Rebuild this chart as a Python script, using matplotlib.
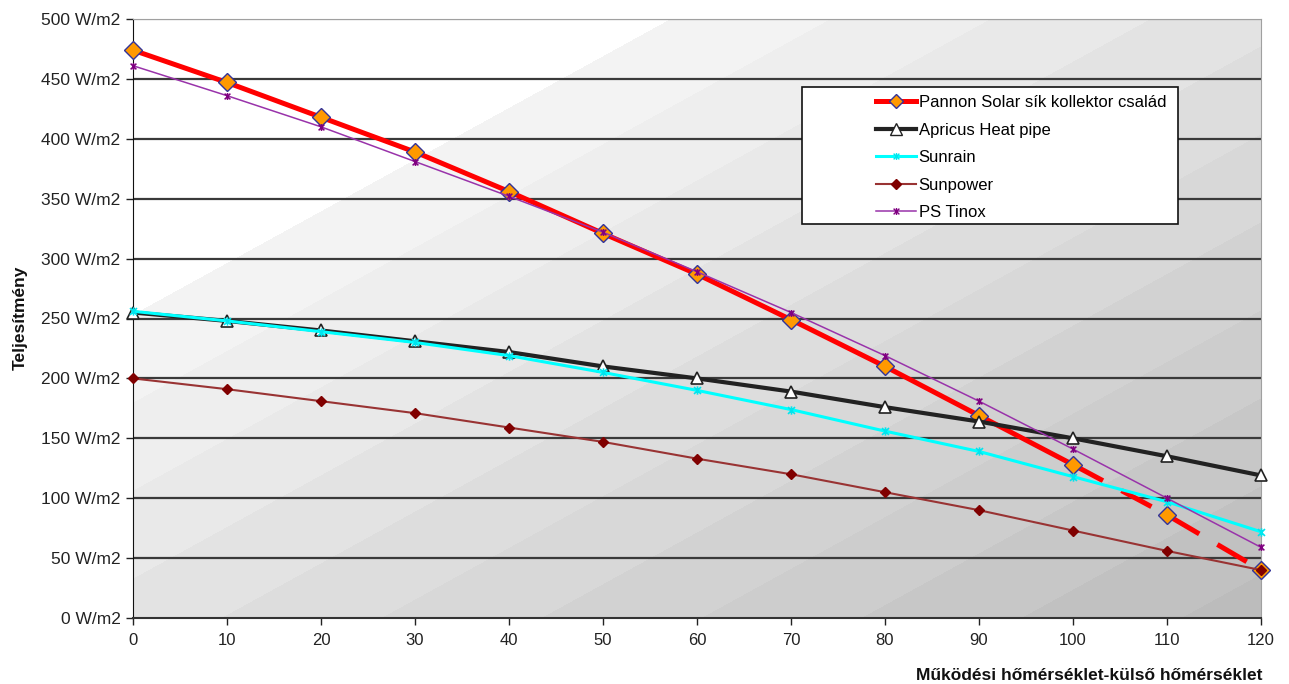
import numpy as np
import matplotlib
matplotlib.use("Agg")
import matplotlib.pyplot as plt
from matplotlib.path import Path
from matplotlib.patches import Rectangle
from matplotlib.lines import Line2D

plt.rcParams['font.family'] = ['Liberation Sans', 'DejaVu Sans']

# data
temp_diff = [0, 10, 20, 30, 40, 50, 60, 70, 80, 90, 100, 110, 120]
pannon  = [474, 447, 418, 389, 356, 321, 287, 249, 210, 169, 128, 86, 40]
apricus = [255, 248, 240, 231, 222, 210, 200, 189, 176, 164, 150, 135, 119]
sunrain = [256, 248, 239, 230, 219, 205, 190, 174, 156, 139, 118, 97, 72]
sunpower = [200, 191, 181, 171, 159, 147, 133, 120, 105, 90, 73, 56, 40]
tinox   = [461, 436, 410, 381, 352, 322, 289, 255, 219, 181, 141, 100, 59]
labels  = ["Pannon Solar sík kollektor család", "Apricus Heat pipe",
           "Sunrain", "Sunpower", "PS Tinox"]
yticks  = list(range(0, 501, 50))
xticks  = list(range(0, 121, 10))

# excel style "star" marker: x with a vertical bar
star = Path([(-1, -1), (1, 1), (-1, 1), (1, -1), (0, -1.2), (0, 1.2)],
            [Path.MOVETO, Path.LINETO, Path.MOVETO, Path.LINETO, Path.MOVETO, Path.LINETO])

W, H = 1289, 684
fig = plt.figure(figsize=(W / 100, H / 100), dpi=100)
ax = fig.add_axes([133 / W, 1 - 618 / H, (1261 - 133) / W, (618 - 19) / H])

# diagonal banded background
aw, ah = 1128, 599
xx, yy = np.meshgrid(np.arange(aw), np.arange(ah))
g = 0.55 * xx + yy
k = np.floor((g - 295) / 88) + 1
k = np.clip(k, 0, 11)
val = np.where(k == 0, 1.0, 0.955 - 0.022 * (k - 1))
ax.imshow(val, cmap='gray', vmin=0, vmax=1, extent=(0, 1, 0, 1),
          transform=ax.transAxes, aspect='auto', zorder=0, interpolation='nearest')

ax.set_xlim(0, 120)
ax.set_ylim(0, 500)
for v in yticks[1:]:
    ax.axhline(v, color='#3a3a3a' if v < 500 else '#a0a0a0', lw=1.6, zorder=1)

x = np.array(temp_diff)
# Pannon: solid to 100, dashed afterwards
ax.plot(x[:11], pannon[:11], color='#ff0000', lw=3.6, zorder=2, solid_capstyle='butt',
        clip_on=False)
ax.plot(x[10:], pannon[10:], color='#ff0000', lw=3.6, zorder=2, dashes=(6.8, 4.2),
        dash_capstyle='butt', clip_on=False)
ax.plot(x, pannon, ls='none', marker='D', ms=9, mfc='#ff9900', mec='#333399', mew=1,
        zorder=3, clip_on=False)

ax.plot(x, apricus, color='#222222', lw=3, marker='^', ms=9, mfc='white', mec='#222222',
        mew=1.2, zorder=4, clip_on=False)
ax.plot(x, sunrain, color='#00ffff', lw=2.2, marker=star, ms=6, mec='#00e5ee', mew=1.2,
        zorder=5, clip_on=False)
ax.plot(x, sunpower, color='#993333', lw=1.5, marker='D', ms=5, mfc='#800000', mec='#800000',
        zorder=6, clip_on=False)
ax.plot(x, tinox, color='#9933aa', lw=1.1, marker=star, ms=5, mec='#800080', mew=1.1,
        zorder=7, clip_on=False)

ax.set_xticks(xticks)
ax.set_yticks(yticks)
ax.set_yticklabels([f"{v} W/m2" for v in yticks])
ax.tick_params(axis='both', labelsize=12, colors='#222222', length=5, width=1)
ax.tick_params(axis='y', labelsize=12.5, pad=4)
ax.tick_params(axis='x', pad=6)
for side in ['top', 'right']:
    ax.spines[side].set_color('#a0a0a0')
ax.spines['left'].set_color('#111111')
ax.spines['bottom'].set_color('#333333')
ax.spines['bottom'].set_linewidth(1.5)

fig.text(1262 / W, 1 - 675 / H, "Működési hőmérséklet-külső hőmérséklet", ha='right',
         va='center', fontsize=12.5, fontweight='bold', color='#111111')
fig.text(20 / W, 1 - 318 / H, "Teljesítmény", rotation=90, ha='center', va='center',
         fontsize=12.5, fontweight='bold', color='#111111')

# legend box
fig.patches.append(Rectangle((802 / W, 1 - 224 / H), (1178 - 802) / W, (224 - 87) / H,
                             transform=fig.transFigure, facecolor='white',
                             edgecolor='#111111', lw=1.2, zorder=10))
handles = [
    Line2D([], [], color='#ff0000', lw=3.6, marker='D', ms=7, mfc='#ff9900', mec='#333399'),
    Line2D([], [], color='#222222', lw=3, marker='^', ms=8, mfc='white', mec='#222222'),
    Line2D([], [], color='#00ffff', lw=2.2, marker=star, ms=5, mec='#00e5ee'),
    Line2D([], [], color='#993333', lw=1.5, marker='D', ms=5, mfc='#800000', mec='#800000'),
    Line2D([], [], color='#9933aa', lw=1.1, marker=star, ms=5, mec='#800080'),
]
leg = fig.legend(handles, labels, loc='upper left', bbox_to_anchor=(861 / W, 1 - 80 / H),
                 frameon=False, fontsize=12, handlelength=2.4, handletextpad=0.15,
                 labelspacing=0.75, borderpad=0.4)
leg.set_zorder(11)

fig.savefig("out.png", dpi=100)
